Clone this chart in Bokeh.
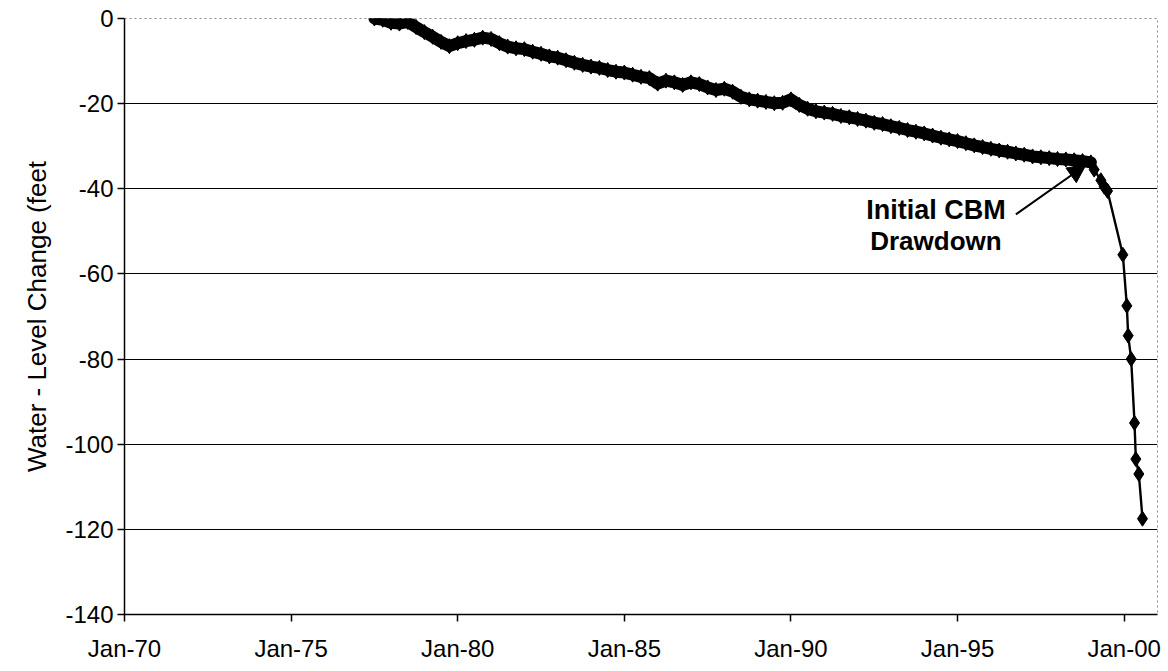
from bokeh.plotting import figure
from bokeh.models import ColumnDataSource, FixedTicker, Range1d, Arrow, NormalHead, Label
from bokeh.embed import file_html
from bokeh.resources import INLINE

# ---- data ----
years = [
    1977.50, 1977.75, 1978.00, 1978.25, 1978.50, 1978.75, 1979.00, 1979.25, 1979.50, 1979.75,
    1980.00, 1980.25, 1980.50, 1980.75, 1981.00, 1981.25, 1981.50, 1981.75, 1982.00, 1982.25,
    1982.50, 1982.75, 1983.00, 1983.25, 1983.50, 1983.75, 1984.00, 1984.25, 1984.50, 1984.75,
    1985.00, 1985.25, 1985.50, 1985.75, 1986.00, 1986.25, 1986.50, 1986.75, 1987.00, 1987.25,
    1987.50, 1987.75, 1988.00, 1988.25, 1988.50, 1988.75, 1989.00, 1989.25, 1989.50, 1989.75,
    1990.00, 1990.25, 1990.50, 1990.75, 1991.00, 1991.25, 1991.50, 1991.75, 1992.00, 1992.25,
    1992.50, 1992.75, 1993.00, 1993.25, 1993.50, 1993.75, 1994.00, 1994.25, 1994.50, 1994.75,
    1995.00, 1995.25, 1995.50, 1995.75, 1996.00, 1996.25, 1996.50, 1996.75, 1997.00, 1997.25,
    1997.50, 1997.75, 1998.00, 1998.25, 1998.50, 1998.75, 1999.00,
    1999.10, 1999.30, 1999.40, 1999.50, 1999.96, 2000.08, 2000.12, 2000.21, 2000.31, 2000.35,
    2000.44, 2000.55,
]
level_change = [
    0.0, -0.3, -1.0, -1.2, -0.8, -2.0, -3.2, -4.3, -5.5, -6.5,
    -5.8, -5.3, -5.0, -4.5, -4.8, -5.8, -6.6, -7.0, -7.2, -7.8,
    -8.3, -8.9, -9.2, -9.8, -10.4, -10.9, -11.3, -11.6, -12.1, -12.5,
    -12.7, -13.2, -13.7, -14.0, -15.3, -14.6, -15.0, -15.6, -15.0, -15.4,
    -16.2, -16.8, -16.5, -17.2, -18.4, -19.0, -19.3, -19.6, -19.9, -19.8,
    -19.0, -20.3, -21.2, -21.8, -22.1, -22.4, -22.9, -23.2, -23.6, -24.0,
    -24.5, -24.8, -25.3, -25.7, -26.2, -26.6, -27.0, -27.5, -28.0, -28.4,
    -28.8, -29.3, -29.8, -30.2, -30.6, -31.0, -31.3, -31.7, -32.0, -32.4,
    -32.6, -32.8, -33.0, -33.1, -33.3, -33.5, -33.8,
    -35.5, -38.0, -39.5, -40.5, -55.5, -67.5, -74.5, -80.0, -95.0, -103.5,
    -107.0, -117.5,
]
dense_count = 87  # the closely spaced record before CBM drawdown
tick_years = [1970, 1975, 1980, 1985, 1990, 1995, 2000]
tick_labels = ["Jan-70", "Jan-75", "Jan-80", "Jan-85", "Jan-90", "Jan-95", "Jan-00"]
y_ticks = [0, -20, -40, -60, -80, -100, -120, -140]
y_tick_labels = ["0", "-20", "-40", "-60", "-80", "-100", "-120", "-140"]
annotation_lines = ["Initial CBM", "Drawdown"]

FONT = "Liberation Sans"

p = figure(width=1164, height=668, output_backend="svg", toolbar_location=None,
           x_range=Range1d(1970, 2001), y_range=Range1d(-140, 0),
           min_border_left=124, min_border_right=7, min_border_top=18, min_border_bottom=54)
p.background_fill_color = "white"
p.border_fill_color = "white"
p.outline_line_color = "#888888"
p.outline_line_dash = "2 3"
p.outline_line_width = 1

# axes
p.xaxis.ticker = FixedTicker(ticks=tick_years)
p.xaxis.major_label_overrides = {t: l for t, l in zip(tick_years, tick_labels)}
p.yaxis.ticker = FixedTicker(ticks=y_ticks)
p.yaxis.major_label_overrides = {t: l for t, l in zip(y_ticks, y_tick_labels)}
for ax in (p.xaxis[0], p.yaxis[0]):
    ax.axis_line_color = "black"
    ax.axis_line_width = 1.5
    ax.major_tick_line_color = "black"
    ax.major_tick_line_width = 1.5
    ax.major_tick_out = 7
    ax.major_tick_in = 0
    ax.minor_tick_line_color = None
    ax.major_label_text_font = FONT
    ax.major_label_text_color = "black"
p.xaxis.major_label_text_font_size = "24px"
p.xaxis.major_label_standoff = 13
p.yaxis.major_label_text_font_size = "24px"
p.yaxis.major_label_standoff = 4
p.yaxis.axis_label = "Water - Level Change (feet"
p.yaxis.axis_label_text_font = FONT
p.yaxis.axis_label_text_font_size = "26px"
p.yaxis.axis_label_text_font_style = "normal"
p.yaxis.axis_label_text_color = "black"
p.yaxis.axis_label_standoff = 10

# grid
p.xgrid.grid_line_color = None
p.ygrid.ticker = FixedTicker(ticks=[-20, -40, -60, -80, -100, -120])
p.ygrid.grid_line_color = "black"
p.ygrid.grid_line_width = 1.2

src = ColumnDataSource(data=dict(x=years, y=level_change))
dense = ColumnDataSource(data=dict(x=years[:dense_count], y=level_change[:dense_count]))
p.line("x", "y", source=dense, line_color="black", line_width=12, line_join="round", line_cap="round")
p.line("x", "y", source=src, line_color="black", line_width=2.4)
p.scatter("x", "y", source=src, marker="diamond", size=15, fill_color="black", line_color="black")

# annotation
p.add_layout(Label(x=1994.35, y=-45.0, text=annotation_lines[0], text_align="center", text_baseline="middle",
                   text_font=FONT, text_font_size="27px", text_font_style="bold", text_color="black"))
p.add_layout(Label(x=1994.35, y=-52.3, text=annotation_lines[1], text_align="center", text_baseline="middle",
                   text_font=FONT, text_font_size="26px", text_font_style="bold", text_color="black"))
p.add_layout(Arrow(x_start=1996.75, y_start=-46.0, x_end=1998.85, y_end=-34.4,
                   line_color="black", line_width=2,
                   end=NormalHead(size=18, fill_color="black", line_color="black")))

open("out.html", "w").write(file_html(p, INLINE))
